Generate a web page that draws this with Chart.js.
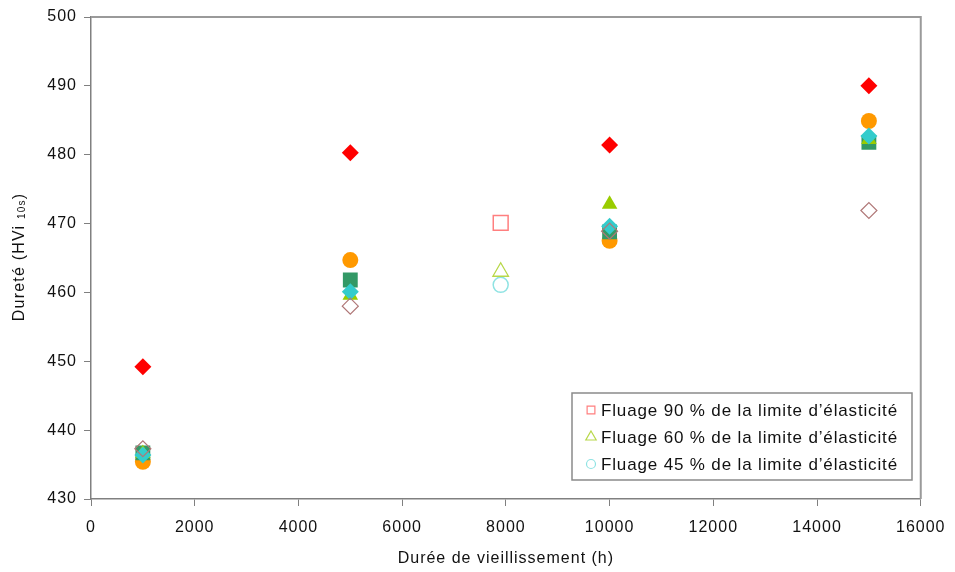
<!DOCTYPE html>
<html>
<head>
<meta charset="utf-8">
<script src="https://cdn.jsdelivr.net/npm/chart.js@4/dist/chart.umd.min.js"></script>
<style>
  html, body { margin: 0; padding: 0; background: #fff; }
  #wrap { width: 955px; height: 572px; position: relative; }
</style>
</head>
<body>
<div id="wrap"><canvas id="c"></canvas></div>
<script>
// Durée de vieillissement (h) et dureté mesurée pour chaque série
const durees = [1000, 5000, 10000, 15000];
const dureteRouge = [449.2, 480.3, 481.4, 490.0];
const dureteBrun = [437.3, 458.0, 468.9, 471.9];
const dureteTurquoise = [436.4, 460.1, 469.6, 482.7];
const dureteTriangle = [436.6, 459.6, 472.8, 482.2];
const dureteVert = [436.7, 461.8, 468.8, 481.8];
const dureteOrange = [435.4, 464.7, 467.5, 484.9];

// Essais de fluage (symboles creux)
const dureeFluage = [7900];
const fluage90 = [470.1];
const fluage60 = [463.0];
const fluage45 = [461.1];

const xTicks = [0, 2000, 4000, 6000, 8000, 10000, 12000, 14000, 16000];
const yTicks = [430, 440, 450, 460, 470, 480, 490, 500];

const FONT = "'Liberation Sans', Arial, sans-serif";
const TEXT = '#111';

function pts(xs, ys) {
    return xs.map((x, i) => ({ x: x, y: ys[i] }));
}

// premier dataset = dessiné au-dessus
const datasets = [
    { label: 'rouge', data: pts(durees, dureteRouge), pointStyle: 'rectRot', pointRadius: 8.5,
      backgroundColor: '#ff0000', borderColor: '#ff0000', borderWidth: 0, legend: false },
    { label: 'brun', data: pts(durees, dureteBrun), pointStyle: 'rectRot', pointRadius: 8,
      backgroundColor: 'rgba(0,0,0,0)', borderColor: '#b07878', borderWidth: 1.2, legend: false },
    { label: 'Fluage 90 % de la limite d\u2019élasticité', data: pts(dureeFluage, fluage90), pointStyle: 'rect', pointRadius: 10.5,
      backgroundColor: 'rgba(0,0,0,0)', borderColor: '#ff7f7f', borderWidth: 1.5, legend: true, legendRadius: 5.5 },
    { label: 'Fluage 60 % de la limite d\u2019élasticité', data: pts(dureeFluage, fluage60), pointStyle: 'triangle', pointRadius: 9,
      backgroundColor: 'rgba(0,0,0,0)', borderColor: '#b8d84a', borderWidth: 1.3, legend: true, legendRadius: 6 },
    { label: 'Fluage 45 % de la limite d\u2019élasticité', data: pts(dureeFluage, fluage45), pointStyle: 'circle', pointRadius: 7.5,
      backgroundColor: 'rgba(0,0,0,0)', borderColor: '#8fe3e3', borderWidth: 1.5, legend: true, legendRadius: 4.5 },
    { label: 'turquoise', data: pts(durees, dureteTurquoise), pointStyle: 'rectRot', pointRadius: 8.5,
      backgroundColor: '#33cccc', borderColor: '#33cccc', borderWidth: 0, legend: false },
    { label: 'triangle', data: pts(durees, dureteTriangle), pointStyle: 'triangle', pointRadius: 9,
      backgroundColor: '#99cc00', borderColor: '#99cc00', borderWidth: 0, legend: false },
    { label: 'vert', data: pts(durees, dureteVert), pointStyle: 'rect', pointRadius: 10.5,
      backgroundColor: '#339966', borderColor: '#339966', borderWidth: 0, legend: false },
    { label: 'orange', data: pts(durees, dureteOrange), pointStyle: 'circle', pointRadius: 8,
      backgroundColor: '#ff9900', borderColor: '#ff9900', borderWidth: 0, legend: false }
];
datasets.forEach(d => { d.showLine = false; d.pointHoverRadius = d.pointRadius; });

// cadre haut/droite, titre Y avec indice, légende encadrée
const decorPlugin = {
    id: 'decor',
    beforeDraw(chart) {
        // texte un peu espacé comme l'original
        chart.ctx.letterSpacing = '1px';
    },
    beforeDatasetsDraw(chart) {
        const ctx = chart.ctx, a = chart.chartArea;
        ctx.save();
        ctx.strokeStyle = '#9a9a9a';
        ctx.lineWidth = 2;
        ctx.beginPath();
        ctx.moveTo(a.left, a.top);
        ctx.lineTo(a.right, a.top);
        ctx.lineTo(a.right, a.bottom);
        ctx.stroke();
        ctx.restore();
    },
    afterDraw(chart) {
        const ctx = chart.ctx;
        // titre de l'axe Y
        ctx.save();
        ctx.translate(20, 257);
        ctx.rotate(-Math.PI / 2);
        ctx.fillStyle = TEXT;
        ctx.textBaseline = 'middle';
        ctx.letterSpacing = '1.2px';
        const big = '16px ' + FONT, small = '10px ' + FONT;
        const parts = [['Dureté (HVi ', big, 0], ['10s', small, 2], [')', big, 0]];
        let w = 0;
        parts.forEach(p => { ctx.font = p[1]; w += ctx.measureText(p[0]).width; });
        let x = -w / 2;
        parts.forEach(p => {
            ctx.font = p[1];
            ctx.fillText(p[0], x, p[2]);
            x += ctx.measureText(p[0]).width;
        });
        ctx.restore();

        // légende
        const box = { left: 572, top: 393, right: 912, bottom: 480 };
        ctx.save();
        ctx.fillStyle = '#fff';
        ctx.fillRect(box.left, box.top, box.right - box.left, box.bottom - box.top);
        ctx.strokeStyle = '#8a8a8a';
        ctx.lineWidth = 1.5;
        ctx.strokeRect(box.left, box.top, box.right - box.left, box.bottom - box.top);
        let row = 0;
        chart.data.datasets.forEach(ds => {
            if (!ds.legend) return;
            const cy = 410 + row * 27;
            ctx.fillStyle = 'rgba(0,0,0,0)';
            ctx.strokeStyle = ds.borderColor;
            ctx.lineWidth = 1.2;
            Chart.helpers.drawPoint(ctx, {
                pointStyle: ds.pointStyle, radius: ds.legendRadius, rotation: 0, borderWidth: 1.2
            }, 591, cy);
            ctx.fillStyle = TEXT;
            ctx.font = '17px ' + FONT;
            ctx.letterSpacing = '0.85px';
            ctx.textBaseline = 'middle';
            ctx.fillText(ds.label, 601, cy + 1);
            row++;
        });
        ctx.restore();
    }
};

new Chart(document.getElementById('c'), {
    type: 'scatter',
    data: { datasets: datasets },
    plugins: [decorPlugin],
    options: {
        responsive: true,
        maintainAspectRatio: false,
        animation: false,
        layout: { padding: { left: 0, right: 33, top: 17, bottom: 0 } },
        plugins: { legend: { display: false }, tooltip: { enabled: false } },
        scales: {
            x: {
                type: 'linear', min: 0, max: 16000,
                afterBuildTicks: s => { s.ticks = xTicks.map(v => ({ value: v })); },
                afterFit: s => { s.height = 73; },
                ticks: { color: TEXT, font: { family: FONT, size: 16 }, padding: 12, maxRotation: 0,
                         callback: v => String(v) },
                grid: { display: true, drawOnChartArea: false, tickLength: 7, color: '#808080', lineWidth: 1 },
                border: { display: true, color: '#808080', width: 1.5 },
                title: { display: true, text: 'Durée de vieillissement (h)', color: TEXT,
                         font: { family: FONT, size: 16 }, padding: { top: 4, bottom: 4 } }
            },
            y: {
                type: 'linear', min: 430, max: 500,
                afterBuildTicks: s => { s.ticks = yTicks.map(v => ({ value: v })); },
                afterFit: s => { s.width = 91; },
                ticks: { color: TEXT, font: { family: FONT, size: 16 }, padding: 7,
                         callback: v => String(v) },
                grid: { display: true, drawOnChartArea: false, tickLength: 7, color: '#808080', lineWidth: 1 },
                border: { display: true, color: '#808080', width: 1.5 }
            }
        }
    }
});
</script>
</body>
</html>
